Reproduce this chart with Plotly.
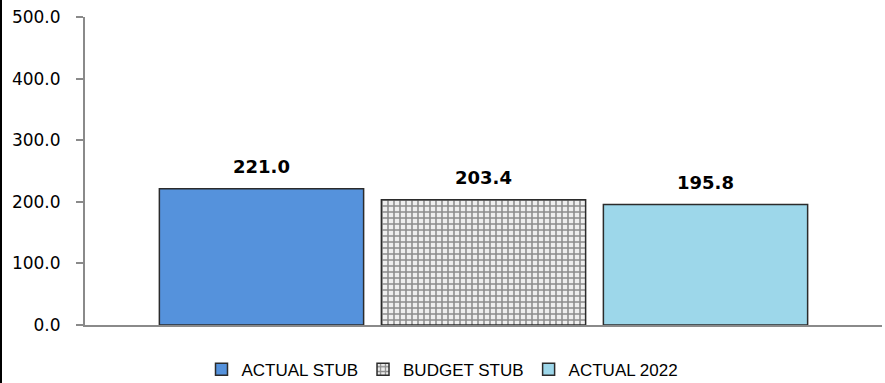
import plotly.graph_objects as go

series_names = ["ACTUAL STUB", "BUDGET STUB", "ACTUAL 2022"]
values = [221.0, 203.4, 195.8]
tick_vals = [0, 100, 200, 300, 400, 500]
tick_text = ["0.0", "100.0", "200.0", "300.0", "400.0", "500.0"]

fills = ["#5592DC", "#FFFFFF", "#9DD7EA"]
patterns = [dict(shape=""), dict(shape="+", fgcolor="#2a2a2a", bgcolor="#eeeeee", size=6, solidity=0.45), dict(shape="")]

fig = go.Figure()
for name, v, c, p in zip(series_names, values, fills, patterns):
    fig.add_trace(go.Bar(
        x=[name], y=[v], name=name,
        marker=dict(color=c, line=dict(color="#2b2b2b", width=1.5), pattern=p),
        width=0.92,
    ))

fig.add_trace(go.Scatter(
    x=series_names, y=values, mode="markers+text",
    text=[f"{v:.1f}" for v in values], textposition="top center",
    marker=dict(size=16, opacity=0),
    textfont=dict(family="DejaVu Sans", size=18, color="#000000", weight="bold"),
    showlegend=False, hoverinfo="skip",
))

fig.update_layout(
    width=885, height=383,
    margin=dict(l=85, r=3, t=17, b=58),
    paper_bgcolor="white", plot_bgcolor="white",
    barmode="overlay",
    showlegend=True,
    legend=dict(
        orientation="h", xref="container", yref="container",
        x=0.5, xanchor="center", y=0.035, yanchor="middle",
        font=dict(family="Liberation Sans", size=17, color="#000000"),
        itemwidth=30, traceorder="normal",
    ),
    xaxis=dict(
        type="category", range=[-0.795, 2.795],
        showticklabels=False, showgrid=False, zeroline=False,
        showline=True, linecolor="#8a8a8a", linewidth=2, ticks="",
    ),
    yaxis=dict(
        range=[0, 500], tickvals=tick_vals, ticktext=tick_text,
        showgrid=False, zeroline=False, showline=True,
        linecolor="#8a8a8a", linewidth=2, ticks="outside", ticklen=7,
        tickcolor="#8a8a8a", tickwidth=2, ticklabelstandoff=12,
        tickfont=dict(family="DejaVu Sans", size=17, color="#000000"),
    ),
    shapes=[dict(type="line", xref="paper", yref="paper",
                 x0=-84 / 797, x1=-84 / 797, y0=-58 / 308, y1=1 + 17 / 308,
                 line=dict(color="#000000", width=2))],
)

fig.write_html("out.html", config={"displayModeBar": False},
               post_script="document.body.style.margin='0';document.body.style.overflow='hidden';")
